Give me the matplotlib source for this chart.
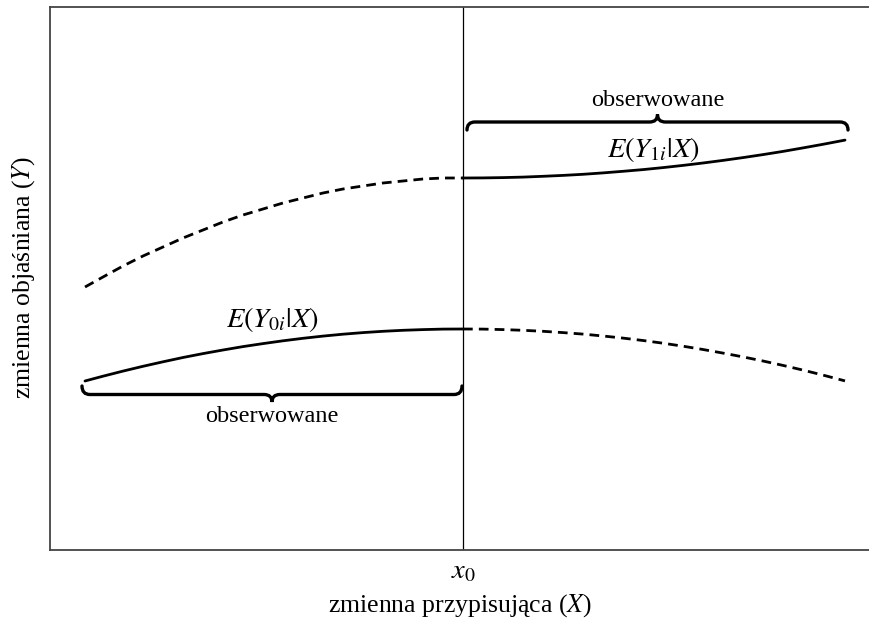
import matplotlib.pyplot as plt
from matplotlib.path import Path
from matplotlib.patches import PathPatch

plt.rcParams['font.family'] = ['Liberation Serif', 'DejaVu Serif']
plt.rcParams['mathtext.fontset'] = 'stix'

# threshold of the assignment variable
x0 = 0.0

# E(Y1|X): counterfactual left of the cutoff, observed right of it
y1_left_x = [-3.78, -3.6, -3.4, -3.2, -3.0, -2.8, -2.6, -2.4, -2.2, -2.0,
             -1.8, -1.6, -1.4, -1.2, -1.0, -0.8, -0.6, -0.4, -0.2, 0.0]
y1_left_y = [2.63, 2.73, 2.84, 2.94, 3.03, 3.12, 3.20, 3.28, 3.35, 3.41,
             3.47, 3.52, 3.57, 3.61, 3.64, 3.67, 3.69, 3.71, 3.72, 3.72]
y1_right_x = [0.0, 0.2, 0.4, 0.6, 0.8, 1.0, 1.2, 1.4, 1.6, 1.8,
              2.0, 2.2, 2.4, 2.6, 2.8, 3.0, 3.2, 3.4, 3.6, 3.82]
y1_right_y = [3.720, 3.721, 3.724, 3.729, 3.737, 3.746, 3.757, 3.771, 3.787, 3.804,
              3.824, 3.846, 3.870, 3.896, 3.924, 3.954, 3.986, 4.021, 4.057, 4.099]

# E(Y0|X): observed left of the cutoff, counterfactual right of it
y0_left_x = [-3.78, -3.6, -3.4, -3.2, -3.0, -2.8, -2.6, -2.4, -2.2, -2.0,
             -1.8, -1.6, -1.4, -1.2, -1.0, -0.8, -0.6, -0.4, -0.2, 0.0]
y0_left_y = [1.690, 1.738, 1.789, 1.837, 1.882, 1.925, 1.964, 2.000, 2.034, 2.064,
             2.092, 2.117, 2.139, 2.158, 2.174, 2.187, 2.197, 2.204, 2.209, 2.210]
y0_right_x = [0.0, 0.2, 0.4, 0.6, 0.8, 1.0, 1.2, 1.4, 1.6, 1.8,
              2.0, 2.2, 2.4, 2.6, 2.8, 3.0, 3.2, 3.4, 3.6, 3.82]
y0_right_y = [2.210, 2.209, 2.204, 2.197, 2.187, 2.174, 2.159, 2.140, 2.119, 2.095,
              2.068, 2.038, 2.005, 1.969, 1.931, 1.890, 1.846, 1.799, 1.749, 1.691]

# horizontal braces: (x start, x end, end height, bar height, tip height)
brace_top = (0.04, 3.85, 4.20, 4.28, 4.355)
brace_bottom = (-3.81, -0.01, 1.64, 1.555, 1.48)

obs_label = 'obserwowane'


def draw_brace(ax, x1, x2, y_end, y_bar, y_tip, r=0.08):
    xm = (x1 + x2) / 2
    verts = [
        (x1, y_end), (x1, y_bar), (x1 + r, y_bar),
        (xm - r, y_bar),
        (xm, y_bar), (xm, y_tip),
        (xm, y_bar), (xm + r, y_bar),
        (x2 - r, y_bar),
        (x2, y_bar), (x2, y_end),
    ]
    codes = [Path.MOVETO, Path.CURVE3, Path.CURVE3,
             Path.LINETO,
             Path.CURVE3, Path.CURVE3,
             Path.CURVE3, Path.CURVE3,
             Path.LINETO,
             Path.CURVE3, Path.CURVE3]
    ax.add_patch(PathPatch(Path(verts, codes), fill=False, lw=2.4,
                           edgecolor='black', capstyle='round'))


fig = plt.figure(figsize=(8.69, 6.23), dpi=100)
ax = fig.add_axes([50 / 869, 73 / 623, 820 / 869, 543.5 / 623])

dash = (0, (3.5, 2.2))
line_kw = dict(color='black', lw=2, solid_capstyle='round')
ax.plot(y1_left_x, y1_left_y, linestyle=dash, **line_kw)
ax.plot(y1_right_x, y1_right_y, **line_kw)
ax.plot(y0_left_x, y0_left_y, **line_kw)
ax.plot(y0_right_x, y0_right_y, linestyle=dash, **line_kw)

ax.axvline(x0, color='black', lw=0.9)

draw_brace(ax, *brace_top)
draw_brace(ax, *brace_bottom)

fs = 17.5
fs_math = 20.5
ax.text((brace_top[0] + brace_top[1]) / 2, 4.50, obs_label,
        ha='center', va='center', fontsize=fs)
ax.text((brace_bottom[0] + brace_bottom[1]) / 2, 1.33, obs_label,
        ha='center', va='center', fontsize=fs)
ax.text(1.90, 4.00, r'$E(Y_{1i}|X)$', ha='center', va='center', fontsize=fs_math)
ax.text(-1.91, 2.30, r'$E(Y_{0i}|X)$', ha='center', va='center', fontsize=fs_math)

ax.set_xlim(-4.13, 4.07)
ax.set_ylim(0, 5.435)
ax.set_xticks([x0])
ax.set_xticklabels([r'$x_0$'], fontsize=fs_math)
ax.set_yticks([])
ax.tick_params(axis='x', length=0, pad=7)
ax.set_xlabel(r'zmienna przypisująca ($X$)', fontsize=18.5, labelpad=5)
ax.set_ylabel(r'zmienna objaśniana ($Y$)', fontsize=18.5, labelpad=9)

for side in ['left', 'top', 'bottom']:
    ax.spines[side].set_color('#444444')
    ax.spines[side].set_linewidth(1.3)
ax.spines['right'].set_visible(False)

fig.savefig('out.png', dpi=100)
